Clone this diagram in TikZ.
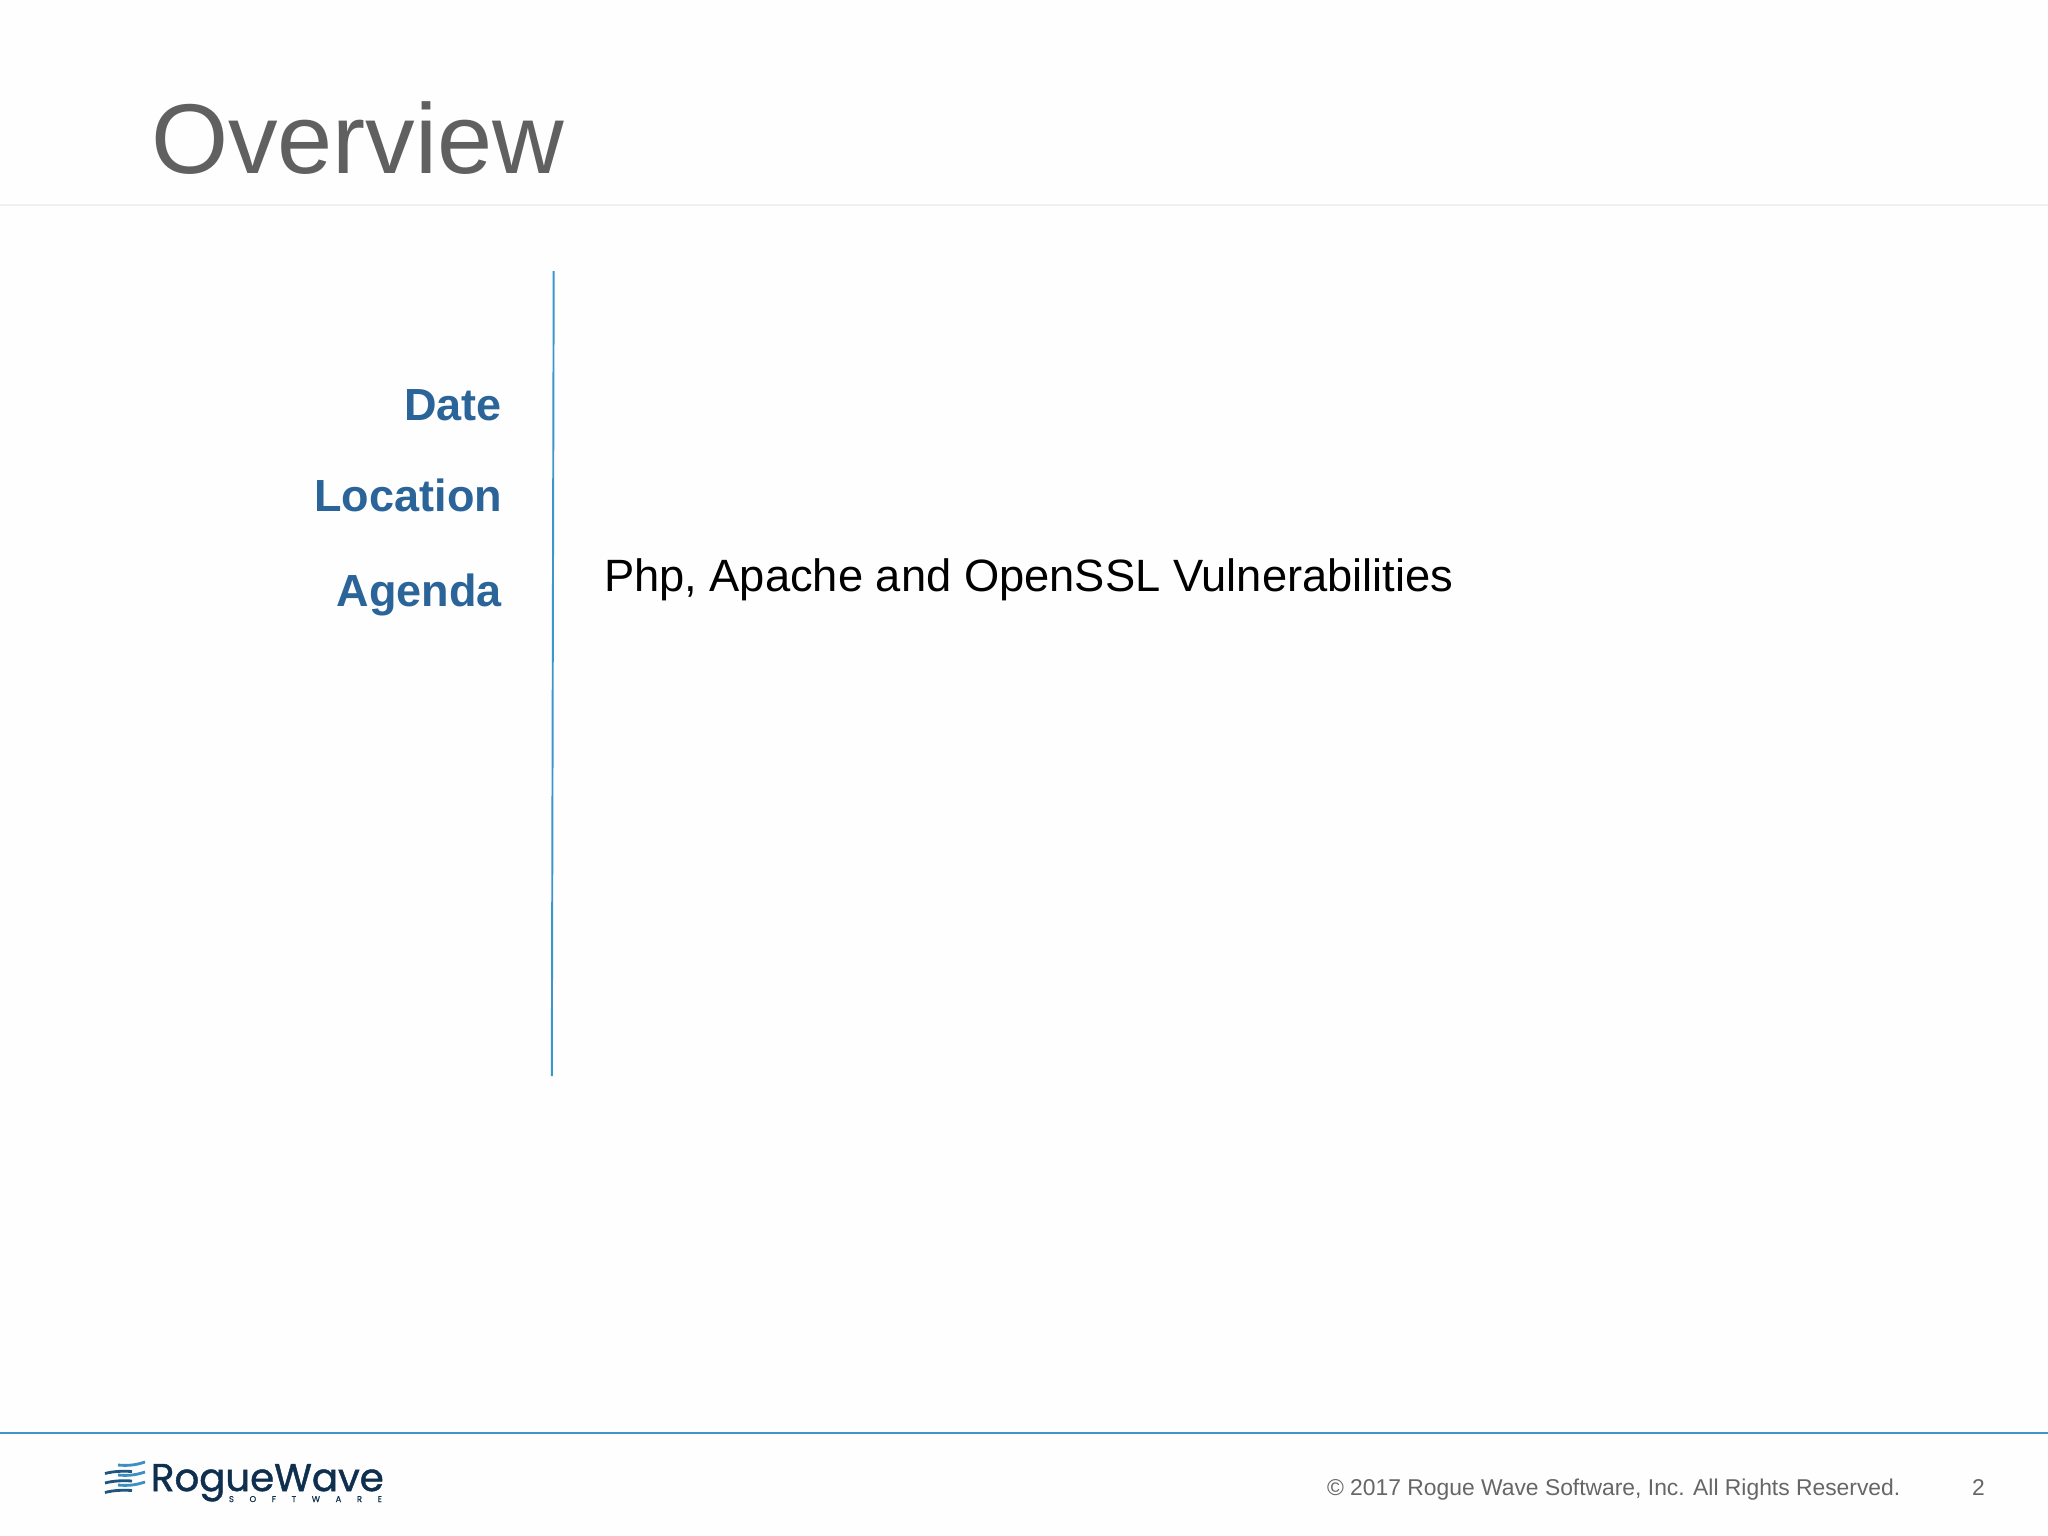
\documentclass[tikz,border=0pt]{standalone}
\usepackage{fontspec}
\setmainfont{Liberation Sans}
\newfontfamily\logofont[FakeBold=1.2]{Poppins}
\newfontfamily\logosmallfont[FakeBold=0.6]{Poppins}
\usetikzlibrary{positioning}
\definecolor{titlegray}{HTML}{606060}
\definecolor{labelblue}{HTML}{2A6498}
\definecolor{rulecyan}{HTML}{3B97CB}
\definecolor{logonavy}{HTML}{0F2F4F}
\definecolor{logoblue}{HTML}{3B8FC4}
\definecolor{logomid}{HTML}{1F5580}
\definecolor{footgray}{HTML}{666666}
\definecolor{paper}{HTML}{FEFEFE}
\tikzset{
  plain/.style={inner sep=0pt,outer sep=0pt},
  sidelabel/.style={plain,anchor=base east,text=labelblue,font=\fontsize{12.8}{13}\selectfont\bfseries},
  footer/.style={plain,anchor=base west,text=footgray,font=\fontsize{6.5}{7}\selectfont},
}

\begin{document}
\begin{tikzpicture}[x=0.01cm,y=-0.01cm]
  \fill[paper,use as bounding box] (0,0) rectangle (2048,1536);

  \node[plain,anchor=base west,text=titlegray,font=\fontsize{28.2}{28}\selectfont] (title) at (151,173) {Overview};
  \fill[black!6] (0,204) rectangle (2048,206);

  \coordinate (dividertop) at (553.7,271);
  \coordinate (dividerbot) at (551.8,1076);
  \draw[rulecyan,line width=0.55pt] (dividertop) -- (dividerbot);

  \node[sidelabel] (date) at (502,420) {Date};
  \node[sidelabel] (location) at (502,511) {Location};
  \node[sidelabel] (agenda) at (502,606) {Agenda};
  \node[plain,anchor=base west,font=\fontsize{12.88}{13}\selectfont] (topic) at (604,591) {Php, Apache and OpenSSL Vulnerabilities};

  \coordinate (ruleleft) at (0,1433);
  \coordinate (ruleright) at (2048,1433);
  \draw[rulecyan,line width=0.6pt] (ruleleft) -- (ruleright);

  % logo stripes
  \foreach \y in {0,10,20}
    \draw[logoblue,line width=0.8pt] (118,1465+\y) .. controls (128,1466+\y) and (136,1465+\y) .. (145,1462+\y);
  \foreach \y in {0,9.5,19}
    \draw[logomid,line width=0.8pt] (105,1473.5+\y) .. controls (114,1471+\y) and (124,1471+\y) .. (132,1471.5+\y);

  \node[plain,anchor=base west,text=logonavy,font=\logofont\fontsize{11}{11}\selectfont] (logoname) at (151,1491) {RogueWave};
  \node[plain,anchor=base west,text=logonavy,font=\logosmallfont\fontsize{2.4}{2.4}\selectfont] (logosub) at (229,1502) {\makebox[43.5pt][s]{S\hfil O\hfil F\hfil T\hfil W\hfil A\hfil R\hfil E}};

  \node[footer] (copyright) at (1327,1495) {© 2017 Rogue Wave Software, Inc. All Rights Reserved.};
  \node[footer] (pagenum) at (1972,1495) {2};
\end{tikzpicture}
\end{document}
